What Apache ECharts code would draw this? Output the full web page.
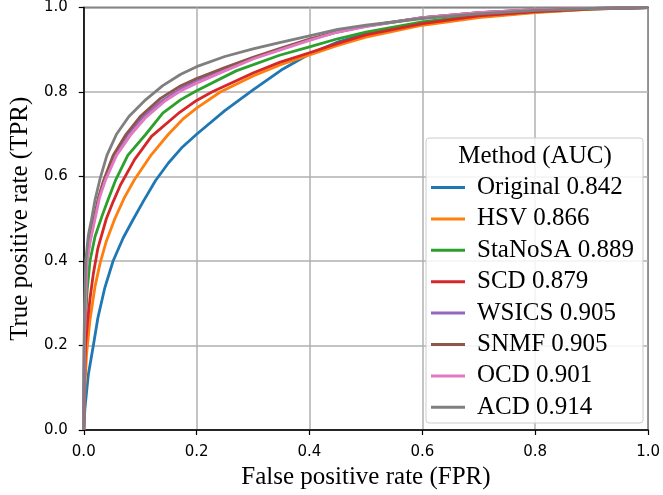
<!DOCTYPE html>
<html>
<head>
<meta charset="utf-8">
<script src="https://cdn.jsdelivr.net/npm/echarts@6/dist/echarts.min.js"></script>
<style>html,body{margin:0;padding:0;background:#fff;}#c{width:663px;height:495px;}</style>
</head>
<body>
<div id="c"></div>
<script>
const methodNames = ['Original 0.842','HSV 0.866','StaNoSA 0.889','SCD 0.879','WSICS 0.905','SNMF 0.905','OCD 0.901','ACD 0.914'];
const colors = ['#1f77b4','#ff7f0e','#2ca02c','#d62728','#9467bd','#8c564b','#e377c2','#7f7f7f'];
const tickLabels = ['0.0','0.2','0.4','0.6','0.8','1.0'];

const original = [[0,0],[0.002,0.05],[0.008,0.13],[0.017,0.2],[0.025,0.265],[0.037,0.335],[0.052,0.40],[0.07,0.455],[0.087,0.497],[0.105,0.54],[0.127,0.59],[0.15,0.632],[0.175,0.67],[0.2,0.70],[0.25,0.756],[0.3,0.805],[0.35,0.852],[0.4,0.89],[0.45,0.918],[0.5,0.938],[0.6,0.963],[0.7,0.978],[0.8,0.989],[0.9,0.996],[1,1]];
const hsv = [[0,0],[0.002,0.1],[0.005,0.18],[0.011,0.26],[0.02,0.34],[0.029,0.395],[0.04,0.447],[0.055,0.50],[0.072,0.55],[0.09,0.593],[0.12,0.652],[0.15,0.70],[0.175,0.735],[0.2,0.762],[0.242,0.80],[0.3,0.838],[0.35,0.865],[0.4,0.888],[0.45,0.91],[0.5,0.93],[0.6,0.958],[0.7,0.976],[0.8,0.988],[0.9,0.996],[1,1]];
const stanosa = [[0,0],[0.001,0.15],[0.003,0.25],[0.006,0.33],[0.011,0.40],[0.02,0.458],[0.032,0.505],[0.043,0.545],[0.056,0.59],[0.078,0.65],[0.11,0.70],[0.14,0.75],[0.172,0.782],[0.2,0.803],[0.27,0.85],[0.347,0.887],[0.4,0.907],[0.45,0.926],[0.5,0.942],[0.6,0.966],[0.7,0.982],[0.8,0.99],[0.9,0.997],[1,1]];
const scd = [[0,0],[0.001,0.1],[0.003,0.2],[0.007,0.26],[0.011,0.31],[0.017,0.37],[0.025,0.43],[0.04,0.50],[0.052,0.54],[0.065,0.58],[0.09,0.64],[0.12,0.695],[0.17,0.752],[0.2,0.78],[0.227,0.80],[0.3,0.845],[0.347,0.87],[0.4,0.893],[0.45,0.915],[0.5,0.935],[0.6,0.962],[0.7,0.98],[0.8,0.99],[0.9,0.997],[1,1]];
const wsics = [[0,0],[0.001,0.2],[0.0028,0.3],[0.0055,0.40],[0.011,0.45],[0.019,0.50],[0.027,0.55],[0.036,0.59],[0.054,0.65],[0.078,0.70],[0.104,0.74],[0.14,0.78],[0.172,0.808],[0.2,0.827],[0.25,0.855],[0.3,0.88],[0.347,0.901],[0.4,0.924],[0.45,0.942],[0.5,0.956],[0.6,0.976],[0.7,0.988],[0.8,0.995],[0.9,0.998],[1,1]];
const snmf = [[0,0],[0.001,0.2],[0.0025,0.3],[0.005,0.40],[0.01,0.45],[0.018,0.50],[0.026,0.55],[0.035,0.59],[0.052,0.65],[0.075,0.70],[0.1,0.742],[0.136,0.785],[0.172,0.815],[0.2,0.832],[0.25,0.858],[0.3,0.882],[0.347,0.903],[0.4,0.925],[0.45,0.943],[0.5,0.956],[0.6,0.976],[0.7,0.988],[0.8,0.995],[0.9,0.998],[1,1]];
const ocd = [[0,0],[0.001,0.2],[0.003,0.3],[0.006,0.40],[0.012,0.45],[0.02,0.50],[0.028,0.55],[0.038,0.59],[0.058,0.65],[0.084,0.70],[0.11,0.74],[0.145,0.78],[0.172,0.803],[0.2,0.821],[0.25,0.85],[0.3,0.878],[0.347,0.899],[0.4,0.922],[0.45,0.942],[0.5,0.955],[0.6,0.976],[0.7,0.988],[0.8,0.995],[0.9,0.998],[1,1]];
const acd = [[0,0],[0.0005,0.2],[0.0015,0.3],[0.0035,0.40],[0.008,0.46],[0.014,0.50],[0.02,0.545],[0.029,0.595],[0.041,0.65],[0.058,0.70],[0.08,0.742],[0.11,0.782],[0.14,0.815],[0.172,0.842],[0.2,0.86],[0.25,0.884],[0.3,0.902],[0.347,0.917],[0.4,0.933],[0.45,0.948],[0.5,0.958],[0.6,0.974],[0.7,0.985],[0.8,0.993],[0.9,0.998],[1,1]];

const seriesData = [original, hsv, stanosa, scd, wsics, snmf, ocd, acd];

const chart = echarts.init(document.getElementById('c'), null, {renderer: 'canvas'});
const fmt = v => {
  const k = Math.round(v * 5);
  return Math.abs(v * 5 - k) < 1e-6 && tickLabels[k] !== undefined ? tickLabels[k] : '';
};
const axisCommon = {
  type: 'value', min: 0, max: 1, interval: 0.2,
  axisLine: {show: true, lineStyle: {color: '#000', width: 1.5}},
  axisTick: {show: true, length: 5, lineStyle: {color: '#000', width: 1.2}},
  splitLine: {show: true, lineStyle: {color: '#b0b0b0', width: 1.5}},
  axisLabel: {color: '#000', fontFamily: 'DejaVu Sans', fontSize: 15, formatter: fmt, showMinLabel: true, showMaxLabel: true},
  nameLocation: 'middle',
  nameTextStyle: {fontFamily: 'Liberation Serif', fontSize: 25, color: '#000'}
};
chart.setOption({
  animation: false,
  color: colors,
  grid: {left: 82, right: 11, top: 7, bottom: 65, show: true, borderColor: '#000', borderWidth: 1.5, containLabel: false},
  xAxis: Object.assign({}, axisCommon, {name: 'False positive rate (FPR)', nameGap: 31,
    axisLabel: Object.assign({}, axisCommon.axisLabel, {margin: 15})}),
  yAxis: Object.assign({}, axisCommon, {name: 'True positive rate (TPR)', nameGap: 46,
    axisLabel: Object.assign({}, axisCommon.axisLabel, {margin: 16})}),
  legend: {
    orient: 'vertical', left: 426, top: 170, z: 20,
    icon: 'rect', itemWidth: 34, itemHeight: 3, itemGap: 6.4,
    textStyle: {fontFamily: 'Liberation Serif', fontSize: 25, color: '#000', lineHeight: 24, padding: [0,0,0,7]},
    data: methodNames
  },
  graphic: [
    {type: 'rect', z: 10, shape: {x: 426, y: 138, width: 217, height: 285, r: 3},
     style: {fill: 'rgba(255,255,255,0.85)', stroke: '#cccccc', lineWidth: 1}},
    {type: 'text', z: 11, x: 535, y: 156,
     style: {text: 'Method (AUC)', fontFamily: 'Liberation Serif', fontSize: 25, fill: '#000', align: 'center', verticalAlign: 'middle'}}
  ],
  series: seriesData.map((d, i) => ({
    name: methodNames[i], type: 'line', data: d, showSymbol: false, symbol: 'none',
    smooth: false, clip: true,
    lineStyle: {width: 2.8, color: colors[i], join: 'round'}, itemStyle: {color: colors[i]}
  }))
});
</script>
</body>
</html>
